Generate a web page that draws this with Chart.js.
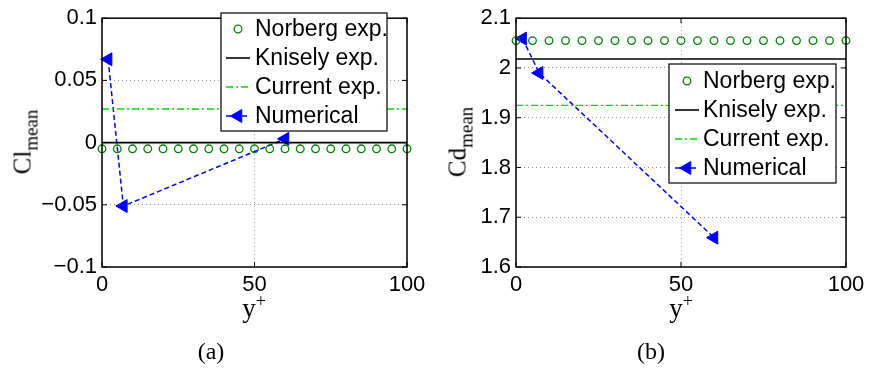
<!DOCTYPE html>
<html>
<head>
<meta charset="utf-8">
<script src="https://cdn.jsdelivr.net/npm/chart.js@4.4.0/dist/chart.umd.min.js"></script>
<style>
  body { margin: 0; background: #fff; width: 870px; height: 368px; position: relative; overflow: hidden; }
  canvas { position: absolute; top: 0; }
  #clChart { left: 0; }
  #cdChart { left: 435px; }
  .lbl { position: absolute; font-family: "Liberation Serif", serif; color: #000; white-space: nowrap; line-height: 1; }
  .ytitle { font-size: 25px; transform: translate(-50%, -50%) rotate(-90deg); }
  .ytitle sub { font-size: 19px; vertical-align: -7px; }
  .xtitle { font-size: 27px; transform: translateX(-50%); }
  .xtitle sup { font-size: 18px; vertical-align: 10px; }
  .caption { font-size: 24px; transform: translate(-50%, -50%); }
</style>
</head>
<body>
<canvas id="clChart" width="435" height="300"></canvas>
<canvas id="cdChart" width="435" height="300"></canvas>

<div class="lbl ytitle" style="left:25px; top:142px;">Cl<sub>mean</sub></div>
<div class="lbl ytitle" style="left:460px; top:142px;">Cd<sub>mean</sub></div>
<div class="lbl xtitle" style="left:254px; top:292px;">y<sup>+</sup></div>
<div class="lbl xtitle" style="left:681px; top:292px;">y<sup>+</sup></div>
<div class="lbl caption" style="left:211px; top:351px;">(a)</div>
<div class="lbl caption" style="left:651px; top:351px;">(b)</div>

<script>
// y+ positions of the reference measurements
const refX = [0, 5, 10, 15, 20, 25, 30, 35, 40, 45, 50, 55, 60, 65, 70, 75, 80, 85, 90, 95, 100];
// y+ of the three simulations
const numX = [2, 7, 60];

// lift coefficient
const norbergCl = -0.005;
const kniselyCl = 0;
const currentCl = 0.027;
const numCl = [0.067, -0.051, 0.003];

// drag coefficient
const norbergCd = 2.055;
const kniselyCd = 2.018;
const currentCd = 1.925;
const numCd = [2.059, 1.99, 1.659];

const xTicks = [0, 50, 100];
const clTicks = [-0.1, -0.05, 0, 0.05, 0.1];
const cdTicks = [1.6, 1.7, 1.8, 1.9, 2, 2.1];

const legendNames = ['Norberg exp.', 'Knisely exp.', 'Current exp.', 'Numerical'];

const SANS = '"Liberation Sans", Arial, sans-serif';

function fmt(v) {
  if (v === 0) return '0';
  return (v < 0 ? '\u2212' : '') + Math.abs(v);
}

// box around the axes with inward ticks
const framePlugin = {
  id: 'frame',
  afterDatasetsDraw(chart) {
    const { ctx, chartArea: a, scales } = chart;
    ctx.save();
    ctx.setLineDash([]);
    ctx.strokeStyle = '#000';
    ctx.lineWidth = 1;
    const len = 5;
    const seg = (x1, y1, x2, y2) => { ctx.beginPath(); ctx.moveTo(x1, y1); ctx.lineTo(x2, y2); ctx.stroke(); };
    scales.x.ticks.forEach(t => {
      const x = scales.x.getPixelForValue(t.value);
      seg(x, a.bottom, x, a.bottom - len);
      seg(x, a.top, x, a.top + len);
    });
    scales.y.ticks.forEach(t => {
      const y = scales.y.getPixelForValue(t.value);
      seg(a.left, y, a.left + len, y);
      seg(a.right, y, a.right - len, y);
    });
    ctx.lineWidth = 1.5;
    ctx.strokeRect(a.left, a.top, a.right - a.left, a.bottom - a.top);
    ctx.restore();
  }
};

// legend box drawn inside the axes
const boxLegend = {
  id: 'boxLegend',
  afterDraw(chart, args, o) {
    const { ctx } = chart;
    ctx.save();
    ctx.fillStyle = '#fff';
    ctx.fillRect(o.x, o.y, o.w, o.h);
    ctx.strokeStyle = '#000';
    ctx.lineWidth = 1.2;
    ctx.setLineDash([]);
    ctx.strokeRect(o.x, o.y, o.w, o.h);
    chart.data.datasets.forEach((ds, i) => {
      const cy = o.rowY + i * o.rowGap;
      if (ds.showLine) {
        ctx.save();
        ctx.strokeStyle = ds.borderColor;
        ctx.lineWidth = ds.borderWidth;
        ctx.setLineDash(ds.borderDash || []);
        ctx.beginPath();
        ctx.moveTo(o.sx0, cy);
        ctx.lineTo(o.sx1, cy);
        ctx.stroke();
        ctx.restore();
      }
      if (ds.pointRadius > 0) {
        ctx.save();
        ctx.strokeStyle = ds.pointBorderColor;
        ctx.fillStyle = ds.pointBackgroundColor;
        ctx.lineWidth = ds.pointBorderWidth;
        ctx.setLineDash([]);
        Chart.helpers.drawPoint(ctx, {
          pointStyle: ds.pointStyle,
          rotation: ds.pointRotation || 0,
          radius: ds.pointRadius,
          borderWidth: ds.pointBorderWidth
        }, (o.sx0 + o.sx1) / 2, cy);
        ctx.restore();
      }
      ctx.fillStyle = '#000';
      ctx.font = '23px ' + SANS;
      ctx.textBaseline = 'middle';
      ctx.textAlign = 'left';
      ctx.fillText(legendNames[i], o.tx, cy + 1);
    });
    ctx.restore();
  }
};

function makeChart(id, cfg) {
  const flat = v => [{ x: 0, y: v }, { x: 100, y: v }];
  const ctx = document.getElementById(id).getContext('2d');
  return new Chart(ctx, {
    type: 'scatter',
    data: {
      datasets: [
        {
          data: refX.map(x => ({ x, y: cfg.norberg })),
          showLine: false,
          pointStyle: 'circle',
          pointRadius: 3.8,
          pointBorderWidth: 1.3,
          pointBorderColor: '#008000',
          pointBackgroundColor: 'rgba(0,0,0,0)'
        },
        {
          data: flat(cfg.knisely),
          showLine: true,
          borderColor: '#000',
          borderWidth: 1.6,
          pointRadius: 0
        },
        {
          data: flat(cfg.current),
          showLine: true,
          borderColor: '#00dd00',
          borderWidth: 1.3,
          borderDash: [7, 3, 2, 3],
          pointRadius: 0
        },
        {
          data: numX.map((x, i) => ({ x, y: cfg.num[i] })),
          showLine: true,
          borderColor: '#0000ff',
          borderWidth: 1.5,
          borderDash: [5, 3],
          pointStyle: 'triangle',
          pointRotation: -90,
          pointRadius: 7.5,
          pointBorderWidth: 1,
          pointBorderColor: '#0000ff',
          pointBackgroundColor: '#0000ff'
        }
      ]
    },
    options: {
      responsive: false,
      animation: false,
      clip: false,
      layout: { padding: cfg.padding },
      plugins: {
        legend: { display: false },
        tooltip: { enabled: false },
        boxLegend: cfg.legend
      },
      scales: {
        x: {
          type: 'linear',
          min: 0,
          max: 100,
          afterBuildTicks: s => { s.ticks = xTicks.map(value => ({ value })); },
          afterFit: s => { s.height = 33; },
          ticks: { callback: fmt, color: '#000', padding: 5, font: { family: SANS, size: 22 }, maxRotation: 0 },
          grid: { color: '#999', drawTicks: false, lineWidth: 1 },
          border: { display: false, dash: [1, 3] }
        },
        y: {
          type: 'linear',
          min: cfg.yMin,
          max: cfg.yMax,
          afterBuildTicks: s => { s.ticks = cfg.yTicks.map(value => ({ value })); },
          afterFit: s => { s.width = cfg.yWidth; },
          ticks: { callback: fmt, color: '#000', padding: 5, font: { family: SANS, size: 22 } },
          grid: { color: '#999', drawTicks: false, lineWidth: 1 },
          border: { display: false, dash: [1, 3] }
        }
      }
    },
    plugins: [framePlugin, boxLegend]
  });
}

makeChart('clChart', {
  norberg: norbergCl, knisely: kniselyCl, current: currentCl, num: numCl,
  yMin: -0.1, yMax: 0.1, yTicks: clTicks, yWidth: 102,
  padding: { left: 0, right: 28, top: 13, bottom: 0 },
  legend: { x: 221, y: 13, w: 166, h: 118, rowY: 29, rowGap: 29, sx0: 226, sx1: 250, tx: 255 }
});

makeChart('cdChart', {
  norberg: norbergCd, knisely: kniselyCd, current: currentCd, num: numCd,
  yMin: 1.6, yMax: 2.1, yTicks: cdTicks, yWidth: 81,
  padding: { left: 0, right: 24, top: 12, bottom: 0 },
  legend: { x: 234, y: 64, w: 167, h: 119, rowY: 81, rowGap: 29, sx0: 240, sx1: 264, tx: 268 }
});
</script>
</body>
</html>
